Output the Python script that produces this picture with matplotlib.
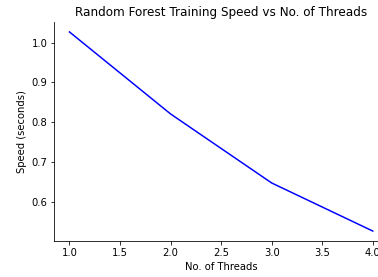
import matplotlib
matplotlib.use("Agg")
import matplotlib.pyplot as plt

# tiempos medidos por numero de hilos
threads = [1, 2, 3, 4]
speed = [1.0265, 0.821, 0.648, 0.5275]

fig = plt.figure(figsize=(378 / 72, 277 / 72), dpi=72)
ax = fig.add_axes([0.1437, 0.13, 0.8825, 0.7906])
ax.plot(threads, speed, color="blue", linewidth=1.5)
ax.spines["top"].set_visible(False)
ax.spines["right"].set_visible(False)
ax.set_title("Random Forest Training Speed vs No. of Threads")
ax.set_xlabel("No. of Threads")
ax.set_ylabel("Speed (seconds)")
fig.savefig("out.png", dpi=72)
